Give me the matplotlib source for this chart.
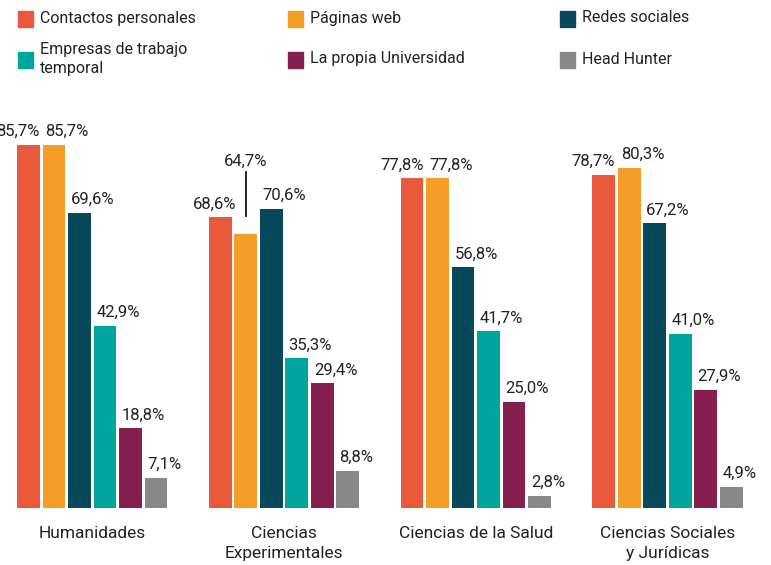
import numpy as np
import matplotlib.pyplot as plt
from matplotlib.patches import Rectangle

plt.rcParams['font.family'] = ['Roboto', 'DejaVu Sans']

groups = ["Humanidades", "Ciencias\nExperimentales", "Ciencias de la Salud",
          "Ciencias Sociales\ny Jurídicas"]
series = ["Contactos personales", "Páginas web", "Redes sociales",
          "Empresas de trabajo\ntemporal", "La propia Universidad", "Head Hunter"]
contactos = [85.7, 68.6, 77.8, 78.7]
paginas = [85.7, 64.7, 77.8, 80.3]
redes = [69.6, 70.6, 56.8, 67.2]
empresas = [42.9, 35.3, 41.7, 41.0]
universidad = [18.8, 29.4, 25.0, 27.9]
head_hunter = [7.1, 8.8, 2.8, 4.9]
colors = ["#E85A3B", "#F59E27", "#07495A", "#00A59D", "#851F4F", "#888888"]

values = [contactos, paginas, redes, empresas, universidad, head_hunter]

W, H = 771, 565
fig = plt.figure(figsize=(W / 100, H / 100), dpi=100)

# pixel based placement: 1 bar step = 25.5 px, baseline at 508 px
step = 25.5
x0 = 28.5
ppu = 4.236  # pixels per percent
ax = fig.add_axes([0, 57 / H, 1, 508 / H])
ax.set_xlim(-x0 / step, (W - x0) / step)
ax.set_ylim(0, 508 / ppu)
ax.axis('off')

gap = 7.52
bw = 0.9
txt = "#222222"


def fmt(v):
    return f"{v:.1f}%".replace('.', ',')


for i, (vals, c) in enumerate(zip(values, colors)):
    xs = np.arange(len(groups)) * gap + i
    ax.bar(xs, vals, width=bw, color=c)
    for g, (x, v) in enumerate(zip(xs, vals)):
        if i == 0:
            dx = 5 if g == 1 else 0
            ax.annotate(fmt(v), (x + bw / 2, v), xytext=(dx, 9),
                        textcoords='offset pixels', ha='right', va='baseline',
                        fontsize=12, color=txt)
        elif i == 1 and g == 1:
            # label lifted with a leader line
            ax.annotate(fmt(v), (x, v), xytext=(0, 68),
                        textcoords='offset pixels', ha='center', va='baseline',
                        fontsize=12, color=txt)
            ax.plot([x, x], [v + 18 / ppu, v + 62 / ppu], color="#111111", lw=1.3)
        else:
            ax.annotate(fmt(v), (x - bw / 2, v), xytext=(3, 9),
                        textcoords='offset pixels', ha='left', va='baseline',
                        fontsize=12, color=txt)

for g, name in enumerate(groups):
    ax.annotate(name, (g * gap + 2.5, 0), xytext=(0, -18),
                textcoords='offset pixels', ha='center', va='top',
                fontsize=12.5, color=txt, linespacing=1.45)

# legend drawn by hand, 3 columns x 2 rows
leg_x = [18, 288, 560]
leg_y = [18, 59]
for k, (name, c) in enumerate(zip(series, colors)):
    row, col = divmod(k, 3)
    px, py = leg_x[col], leg_y[row]
    sq = 15
    fig.patches.append(Rectangle((px / W, 1 - (py + sq / 2 + 1) / H), sq / W, sq / H,
                                 transform=fig.transFigure, color=c))
    fig.text((px + 22) / W, 1 - py / H, name, ha='left', va='center',
             fontsize=11.5, color=txt, linespacing=1.4)

fig.savefig("out.png", dpi=100)
